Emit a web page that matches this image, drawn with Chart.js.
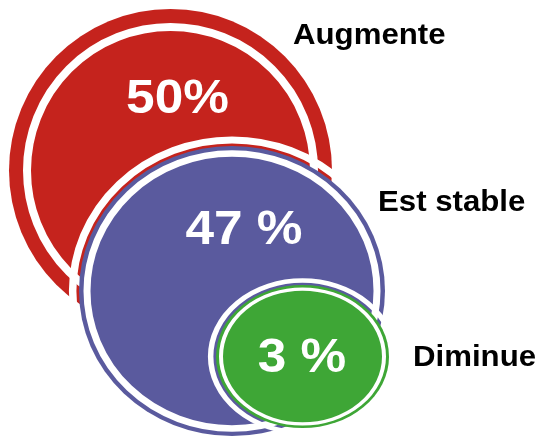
<!DOCTYPE html>
<html>
<head>
<meta charset="utf-8">
<script src="https://cdn.jsdelivr.net/npm/chart.js@4/dist/chart.umd.min.js"></script>
<style>
  html, body { margin: 0; padding: 0; background: #fff; }
  #wrap { width: 540px; height: 438px; }
</style>
</head>
<body>
<div id="wrap"><canvas id="chart"></canvas></div>
<script>
// Data
const categories = ['Augmente', 'Est stable', 'Diminue'];
const shares = [50, 47, 3];
const shareSep = ['', ' ', ' '];   // the source writes "50%" but "47 %"

// Layout of the bubbles (scale units = px on the 540x438 canvas)
const bubbleX = [170.5, 232, 302.5];
const bubbleY = [170.5, 291, 356.5];
const bubbleR = [161.5, 153, 86.5];
const squash = [1, 0.948, 0.827];      // vertical / horizontal radius
const ringW = [14, 4.5, 3];            // coloured outer ring
const gapW = [8, 7, 4];                // white ring inside it
const haloW = [0, 7.5, 5.5];           // white halo outside the shape
const haloGap = [0, 2.6, 2.6];
const colors = ['#c5231d', '#5a5a9e', '#3ea636'];

// Label anchors
const shareLabelX = [177.5, 244, 302];
const shareLabelY = [113, 244, 372];
const catLabelX = [293, 378, 413];
const catLabelY = [43.5, 211, 366];

// Build three layers per category: halo, body, inner ring + fill
const datasets = [];
categories.forEach((cat, i) => {
    const pt = { x: bubbleX[i], y: bubbleY[i] };
    if (haloW[i] > 0) {
        datasets.push({
            label: cat + ' halo', cat: i,
            data: [{ ...pt, r: bubbleR[i] + haloGap[i] + haloW[i] / 2 }],
            backgroundColor: 'rgba(0,0,0,0)',
            borderColor: '#ffffff',
            borderWidth: haloW[i]
        });
    }
    datasets.push({
        label: cat, cat: i,
        data: [{ ...pt, r: bubbleR[i] }],
        backgroundColor: colors[i],
        borderWidth: 0
    });
    datasets.push({
        label: cat + ' inner', cat: i,
        data: [{ ...pt, r: bubbleR[i] - ringW[i] - gapW[i] / 2 }],
        backgroundColor: colors[i],
        borderColor: '#ffffff',
        borderWidth: gapW[i]
    });
});
// first pushed layer is drawn first (bottom)
datasets.forEach((ds, i) => { ds.order = -i; ds.clip = false; });

// Squash each bubble vertically into an ellipse
const ellipsePlugin = {
    id: 'ellipse',
    beforeDatasetDraw(chart, args) {
        const ds = chart.data.datasets[args.index];
        const el = args.meta.data[0];
        const ctx = chart.ctx;
        ctx.save();
        ctx.translate(0, el.y);
        ctx.scale(1, squash[ds.cat]);
        ctx.translate(0, -el.y);
    },
    afterDatasetDraw(chart) {
        chart.ctx.restore();
    }
};

function stretchedText(ctx, text, x, y, sx) {
    ctx.save();
    ctx.translate(x, y);
    ctx.scale(sx, 1);
    ctx.fillText(text, 0, 0);
    ctx.restore();
}

const labelPlugin = {
    id: 'labels',
    afterDraw(chart) {
        const ctx = chart.ctx;
        const xs = chart.scales.x, ys = chart.scales.y;
        ctx.save();
        ctx.textBaseline = 'alphabetic';

        // percentages
        ctx.fillStyle = '#ffffff';
        ctx.textAlign = 'center';
        ctx.font = 'bold 48px "Liberation Sans", Arial, sans-serif';
        shares.forEach((v, i) => {
            stretchedText(ctx, v + shareSep[i] + '%',
                xs.getPixelForValue(shareLabelX[i]), ys.getPixelForValue(shareLabelY[i]), 1.07);
        });

        // category names
        ctx.fillStyle = '#000000';
        ctx.textAlign = 'left';
        ctx.font = 'bold 30px "Liberation Sans", Arial, sans-serif';
        categories.forEach((c, i) => {
            stretchedText(ctx, c,
                xs.getPixelForValue(catLabelX[i]), ys.getPixelForValue(catLabelY[i]), 1.04);
        });
        ctx.restore();
    }
};

new Chart(document.getElementById('chart'), {
    type: 'bubble',
    data: { datasets: datasets },
    options: {
        responsive: true,
        maintainAspectRatio: false,
        animation: false,
        events: [],
        layout: { padding: 0, autoPadding: false },
        scales: {
            x: { type: 'linear', min: 0, max: 540, display: false },
            y: { type: 'linear', min: 0, max: 438, reverse: true, display: false }
        },
        plugins: {
            legend: { display: false },
            tooltip: { enabled: false }
        }
    },
    plugins: [ellipsePlugin, labelPlugin]
});
</script>
</body>
</html>
